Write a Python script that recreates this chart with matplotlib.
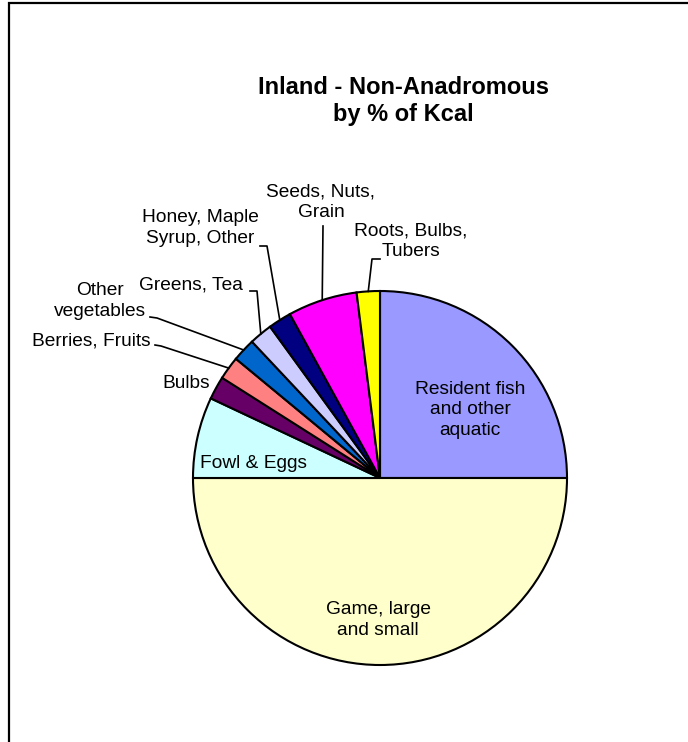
"""Pie chart of inland non-anadromous diet by share of Kcal."""

import matplotlib.pyplot as plt
import numpy as np
from matplotlib.patches import Rectangle

plt.rcParams["font.family"] = ["Liberation Sans", "DejaVu Sans"]

# data, clockwise from 12 o'clock
CATEGORIES = [
    "Resident fish\nand other\naquatic",
    "Game, large\nand small",
    "Fowl & Eggs",
    "Bulbs",
    "Berries, Fruits",
    "Other\nvegetables",
    "Greens, Tea",
    "Honey, Maple\nSyrup, Other",
    "Seeds, Nuts,\nGrain",
    "Roots, Bulbs,\nTubers",
]
PERCENT_KCAL = [25, 50, 7, 2, 2, 2, 2, 2, 6, 2]
COLORS = [
    "#9999FF", "#FFFFCC", "#CCFFFF", "#660066", "#FF8080",
    "#0066CC", "#CCCCFF", "#000080", "#FF00FF", "#FFFF00",
]

W, H = 688, 742
CX, CY, R = 380, 478, 187  # pie centre and radius in pixels


def px(x, y):
    """Pixel position (y down) to pie data coordinates."""
    return (x - CX) / R, (CY - y) / R


# label placement: text centre (px) and leader elbow points (px)
LAYOUT = {
    0: dict(xy=(470, 410), leader=None),
    1: dict(xy=(378, 620), leader=None),
    2: dict(xy=(254, 463), leader=None),
    3: dict(xy=(186, 384), leader=None),
    4: dict(xy=(91, 341), leader=[(155, 345), (161, 346)]),
    5: dict(xy=(100, 301), leader=[(150, 317), (157, 318)]),
    6: dict(xy=(191, 285), leader=[(250, 291), (257, 291)]),
    7: dict(xy=(200, 228), leader=[(260, 246), (267, 246)]),
    8: dict(xy=(321, 202), leader=[(323, 226)]),
    9: dict(xy=(411, 241), leader=[(380, 259), (372, 259)]),
}


def main() -> None:
    fig = plt.figure(figsize=(W / 100, H / 100), dpi=100)

    # chart area frame (right and bottom edges fall outside the picture)
    fig.patches.append(
        Rectangle(
            (9 / W, -0.1), 1.0, 1.1 - 3 / H,
            transform=fig.transFigure, fill=False, ec="black", lw=1.6,
        )
    )

    ax = fig.add_axes([(CX - R) / W, (H - CY - R) / H, 2 * R / W, 2 * R / H])
    wedges, _ = ax.pie(
        PERCENT_KCAL,
        colors=COLORS,
        startangle=90,
        counterclock=False,
        radius=1.0,
        wedgeprops=dict(edgecolor="black", linewidth=1.5),
    )
    ax.set_xlim(-1, 1)
    ax.set_ylim(-1, 1)
    ax.set_aspect("auto")
    ax.axis("off")

    for i, (wedge, label) in enumerate(zip(wedges, CATEGORIES)):
        spec = LAYOUT[i]
        tx, ty = px(*spec["xy"])
        ax.text(
            tx, ty, label, ha="center", va="center", multialignment="center",
            fontsize=13.8, color="black", linespacing=1.25,
        )
        if spec["leader"]:
            mid = np.deg2rad((wedge.theta1 + wedge.theta2) / 2)
            pts = [px(*p) for p in spec["leader"]] + [(np.cos(mid), np.sin(mid))]
            xs, ys = zip(*pts)
            ax.plot(xs, ys, color="black", lw=1.2, clip_on=False)

    fig.text(
        403 / W, 1 - 101 / H, "Inland - Non-Anadromous\nby % of Kcal",
        ha="center", va="center", fontsize=17, fontweight="bold",
        linespacing=1.2,
    )

    fig.savefig("out.png", dpi=100)
    plt.close(fig)


if __name__ == "__main__":
    main()
